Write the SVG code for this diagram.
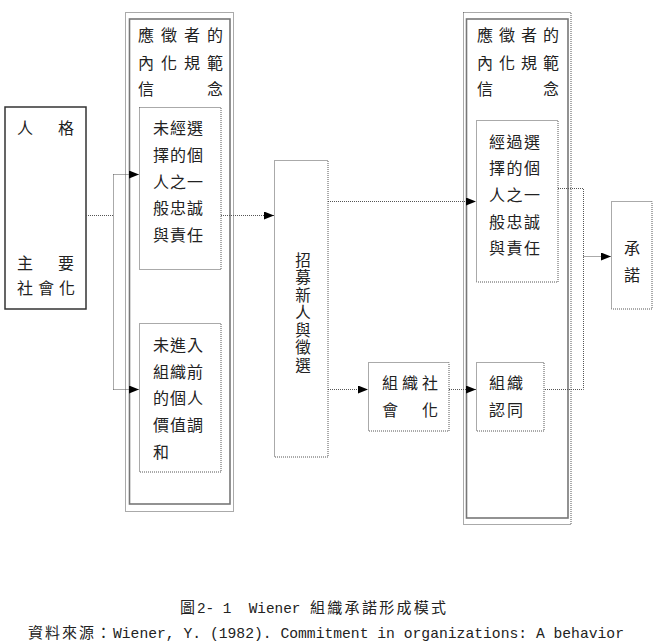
<svg xmlns="http://www.w3.org/2000/svg" width="658" height="644" viewBox="0 0 658 644">
<defs>
<marker id="ah" markerWidth="10" markerHeight="8" refX="10" refY="4" orient="auto" markerUnits="userSpaceOnUse">
<path d="M0,0 L10,4 L0,8 Z" fill="#000"/>
</marker>
<style>
.t{font-family:"Noto Sans CJK TC","Noto Sans CJK SC",sans-serif;font-size:16px;fill:#222}
.v{font-family:"Noto Sans CJK TC","Noto Sans CJK SC",sans-serif;font-size:15.5px;fill:#222;writing-mode:vertical-rl;text-orientation:upright}
.dot{fill:none;stroke:#555;stroke-width:1;stroke-dasharray:1 1}
.frame{fill:none;stroke:#777;stroke-width:1.6}
.solid{fill:none;stroke:#333;stroke-width:1.5}
.con{fill:none;stroke:#555;stroke-width:1;stroke-dasharray:1 1}
.cap{font-family:"Noto Sans CJK TC","Noto Sans CJK SC",sans-serif;font-size:15px;fill:#222}
.mono{font-family:"Liberation Mono",monospace;font-size:14.4px;fill:#222}
</style>
</defs>
<rect width="658" height="644" fill="#fff"/>

<g id="frame-left">
<rect class="dot" x="125.5" y="12.5" width="108" height="499"/>
<rect class="frame" x="129.5" y="19" width="100.5" height="485"/>
<text class="t"><tspan x="138 161 184 207" y="41">應徵者的</tspan><tspan x="138 161 184 207" y="69">內化規範</tspan><tspan x="138 207" y="95">信念</tspan></text>
</g>

<g id="frame-right">
<rect class="dot" x="463.5" y="12.5" width="107.5" height="512"/>
<rect class="frame" x="466.5" y="19" width="101.5" height="499"/>
<text class="t"><tspan x="477 499 521 543" y="41">應徵者的</tspan><tspan x="477 499 521 543" y="69">內化規範</tspan><tspan x="477 543" y="95">信念</tspan></text>
</g>

<g id="personality">
<rect class="solid" x="5" y="107" width="81" height="202"/>
<text class="t"><tspan x="17 58" y="134">人格</tspan><tspan x="17 58" y="269">主要</tspan><tspan x="17 38 59" y="294">社會化</tspan></text>
</g>

<g id="unselected-loyalty">
<rect class="dot" x="139.5" y="107.5" width="81.5" height="162"/>
<text class="t"><tspan x="153 170 187" y="134">未經選</tspan><tspan x="153 170 187" y="161">擇的個</tspan><tspan x="153 170 187" y="188">人之一</tspan><tspan x="153 170 187" y="214">般忠誠</tspan><tspan x="153 170 187" y="241">與責任</tspan></text>
</g>

<g id="pre-entry-values">
<rect class="dot" x="139.5" y="323.5" width="81.5" height="148.5"/>
<text class="t"><tspan x="153 170 187" y="351">未進入</tspan><tspan x="153 170 187" y="378">組織前</tspan><tspan x="153 170 187" y="404">的個人</tspan><tspan x="153 170 187" y="431">價值調</tspan><tspan x="153" y="458">和</tspan></text>
</g>

<g id="recruitment">
<rect class="dot" x="274.5" y="160.5" width="53.5" height="296.5"/>
<text class="v" x="303" y="252" letter-spacing="2">招募新人與徵選</text>
</g>

<g id="selected-loyalty">
<rect class="dot" x="476.5" y="120.5" width="81.5" height="161.5"/>
<text class="t"><tspan x="489 506.5 524" y="148">經過選</tspan><tspan x="489 506.5 524" y="174">擇的個</tspan><tspan x="489 506.5 524" y="201">人之一</tspan><tspan x="489 506.5 524" y="228">般忠誠</tspan><tspan x="489 506.5 524" y="254">與責任</tspan></text>
</g>

<g id="org-socialization">
<rect class="dot" x="368.5" y="362.5" width="80.5" height="68.5"/>
<text class="t"><tspan x="382 402 422" y="389">組織社</tspan><tspan x="382 422" y="416">會化</tspan></text>
</g>

<g id="org-identification">
<rect class="dot" x="476.5" y="362.5" width="67.5" height="68.5"/>
<text class="t"><tspan x="489 507" y="389">組織</tspan><tspan x="489 507" y="416">認同</tspan></text>
</g>

<g id="commitment">
<rect class="dot" x="611.5" y="201.5" width="40.5" height="107.5"/>
<text class="t" text-anchor="middle"><tspan x="632" y="254">承</tspan><tspan x="632" y="281">諾</tspan></text>
</g>

<g id="connectors">
<path class="con" d="M86,215.5 H113.5 M113.5,174.5 V389.5"/>
<path class="con" d="M113.5,174.5 H139" marker-end="url(#ah)"/>
<path class="con" d="M113.5,389.5 H139" marker-end="url(#ah)"/>
<path class="con" d="M221,215.5 H274" marker-end="url(#ah)"/>
<path class="con" d="M328,201.5 H476" marker-end="url(#ah)"/>
<path class="con" d="M328,389.5 H368" marker-end="url(#ah)"/>
<path class="con" d="M449,389.5 H476" marker-end="url(#ah)"/>
<path class="con" d="M558,188.5 H583.5 V389.5 H544"/>
<path class="con" d="M583.5,256.5 H611" marker-end="url(#ah)"/>
</g>

<g id="caption">
<text class="cap" x="180" y="613">圖</text>
<text class="mono" x="197" y="613" textLength="112" lengthAdjust="spacingAndGlyphs" xml:space="preserve">2- 1  Wiener </text>
<text class="cap" x="310" y="613" letter-spacing="2.3">組織承諾形成模式</text>
<text class="cap" x="28" y="638" letter-spacing="2">資料來源：</text>
<text class="mono" x="113" y="638" textLength="511" lengthAdjust="spacingAndGlyphs">Wiener, Y. (1982). Commitment in organizations: A behavior</text>
</g>
</svg>
